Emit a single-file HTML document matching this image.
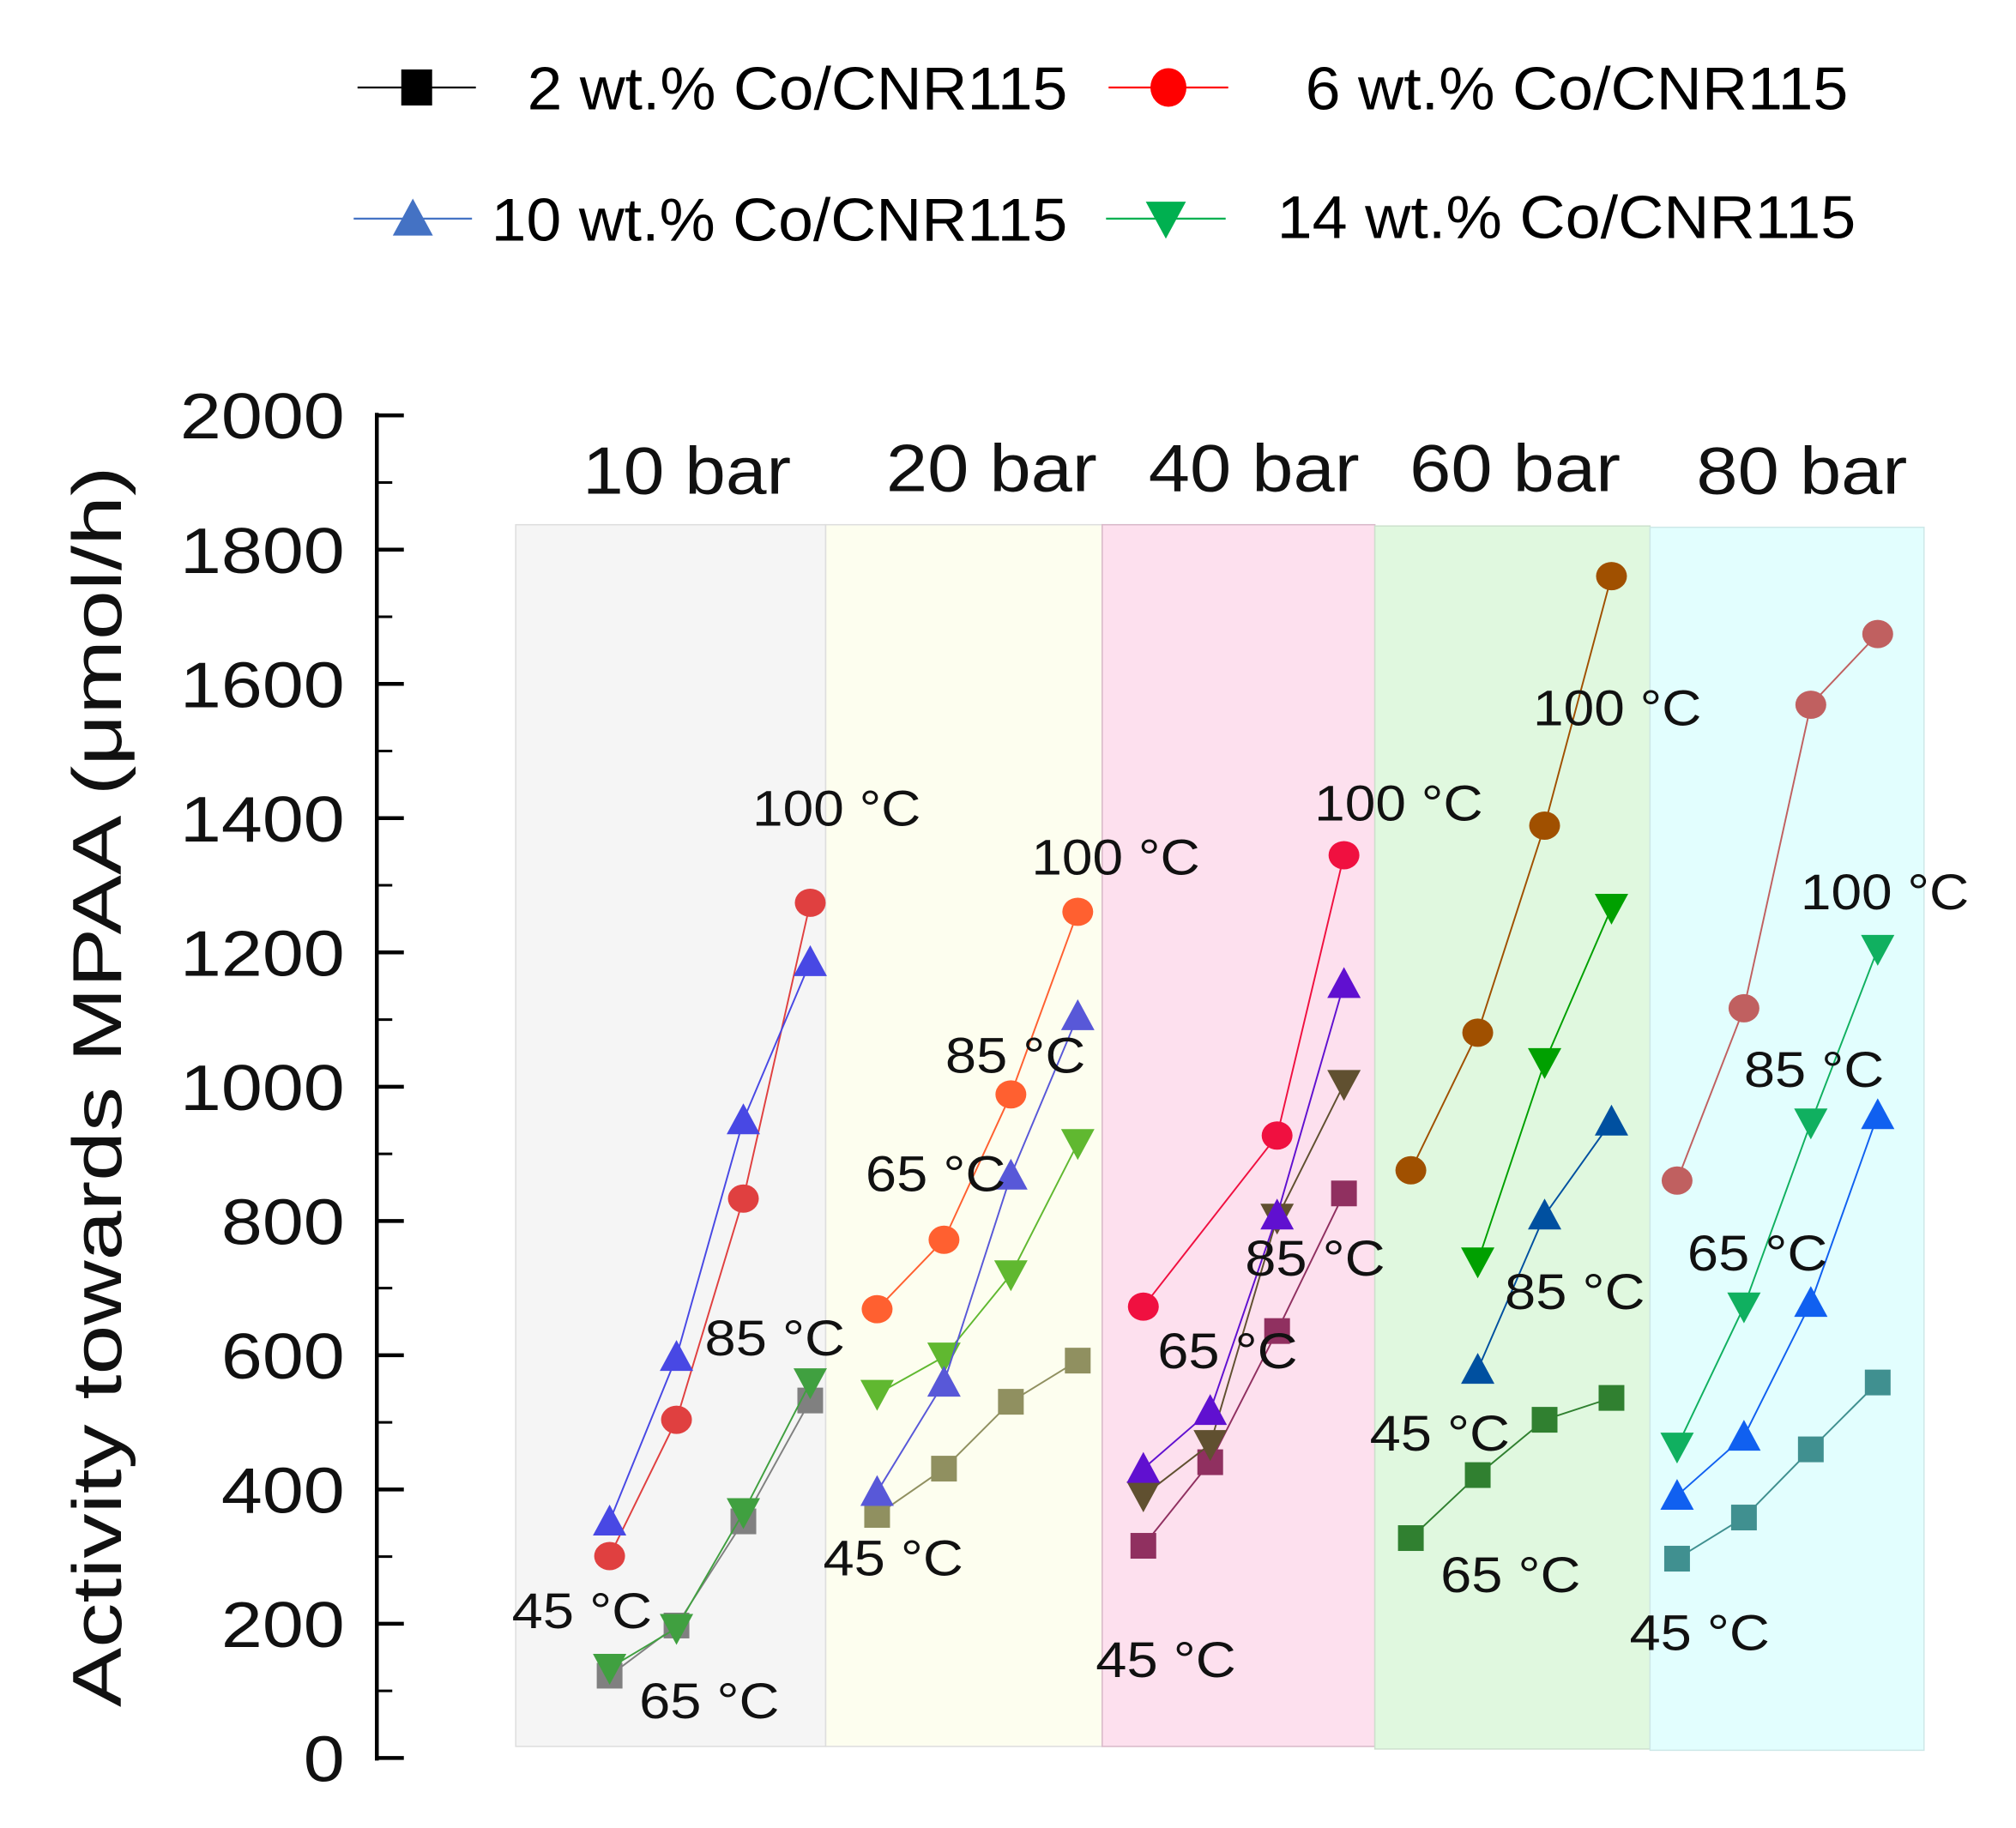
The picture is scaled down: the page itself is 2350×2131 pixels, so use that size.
<!DOCTYPE html>
<html><head><meta charset="utf-8"><style>html,body{margin:0;padding:0;background:#fff}svg{display:block}</style></head>
<body>
<svg id="s" width="2350" height="2131" viewBox="0 0 1560 1414.6" xmlns="http://www.w3.org/2000/svg" font-family="Liberation Sans, Arial, sans-serif">
<rect width="1560" height="1415" fill="#fff"/>
<g transform="scale(0.9952)">
<rect x="401" y="408" width="241" height="950" fill="#f5f5f5" stroke="#ddd" stroke-width="1"/>
<rect x="642" y="408" width="215" height="950" fill="#fdfeef" stroke="#ddd" stroke-width="1"/>
<rect x="857" y="408" width="212" height="950" fill="#fde0ee" stroke="#d8b8c8" stroke-width="1"/>
<rect x="1069" y="409" width="214" height="951" fill="#e0f8df" stroke="#cde0cd" stroke-width="1"/>
<rect x="1283" y="410" width="213" height="951" fill="#e2fefe" stroke="#cde8e8" stroke-width="1"/>
<g font-size="52" fill="#111">
<text x="453" y="384" textLength="162" lengthAdjust="spacingAndGlyphs">10 bar</text>
<text x="689" y="382" textLength="164" lengthAdjust="spacingAndGlyphs">20 bar</text>
<text x="893" y="382" textLength="164" lengthAdjust="spacingAndGlyphs">40 bar</text>
<text x="1096" y="382" textLength="164" lengthAdjust="spacingAndGlyphs">60 bar</text>
<text x="1319" y="384" textLength="164" lengthAdjust="spacingAndGlyphs">80 bar</text>
</g>
<g id="ax" stroke="#000" stroke-width="3" fill="none"></g>
<g font-size="50" fill="#111" id="yl"></g>
<text transform="translate(94,845) rotate(-90)" font-size="54" text-anchor="middle" fill="#111" textLength="965" lengthAdjust="spacingAndGlyphs">Activity towards MPAA (μmol/h)</text>
<g id="data"></g>
<g font-size="39" fill="#111" id="tl"></g>
<g id="leg"></g>
<g font-size="47" fill="#000" font-family="Liberation Sans Narrow, Liberation Sans, sans-serif">
<text x="410" y="85" textLength="420" lengthAdjust="spacingAndGlyphs">2 wt.% Co/CNR115</text>
<text x="1015" y="85" textLength="422" lengthAdjust="spacingAndGlyphs">6 wt.% Co/CNR115</text>
<text x="382" y="187" textLength="448" lengthAdjust="spacingAndGlyphs">10 wt.% Co/CNR115</text>
<text x="993" y="185" textLength="450" lengthAdjust="spacingAndGlyphs">14 wt.% Co/CNR115</text>
</g>
</g>
</svg>
<script>
var NS="http://www.w3.org/2000/svg";
function el(p,t,a){var e=document.createElementNS(NS,t);for(var k in a)e.setAttribute(k,a[k]);p.appendChild(e);return e;}
var ax=document.getElementById('ax'),yl=document.getElementById('yl');
el(ax,'line',{x1:293,y1:321,x2:293,y2:1369});
for(var v=0;v<=2000;v+=100){var y=1367-v*0.522;var maj=v%200==0;
el(ax,'line',{x1:293,y1:y,x2:maj?314:305,y2:y,'stroke-width':maj?3:2});
if(maj){var s=String(v),w=s.length==4?128:s.length==3?96:32;
var t=el(yl,'text',{x:268-w,y:y+18,textLength:w,lengthAdjust:'spacingAndGlyphs'});t.textContent=s;}}
var TL=[[585,642,'100 °C'],[548,1054,'85 °C'],[398,1266,'45 °C'],[497,1336,'65 °C'],
[802,680,'100 °C'],[735,834,'85 °C'],[673,926,'65 °C'],[640,1225,'45 °C'],
[1022,638,'100 °C'],[968,992,'85 °C'],[900,1064,'65 °C'],[852,1304,'45 °C'],
[1192,564,'100 °C'],[1170,1018,'85 °C'],[1065,1128,'45 °C'],[1120,1238,'65 °C'],
[1400,707,'100 °C'],[1356,845,'85 °C'],[1312,988,'65 °C'],[1267,1283,'45 °C']];
var tl=document.getElementById('tl');
TL.forEach(function(a){var t=el(tl,'text',{x:a[0],y:a[1],textLength:a[2].length==6?131:109,lengthAdjust:'spacingAndGlyphs'});t.textContent=a[2];});
var D=document.getElementById('data');
function mk(g,type,x,y,c,s){s=s||1;
 if(type=='c')el(g,'ellipse',{cx:x,cy:y,rx:12*s,ry:11*s,fill:c});
 else if(type=='s')el(g,'rect',{x:x-10*s,y:y-10*s,width:20*s,height:20*s,fill:c});
 else if(type=='u')el(g,'polygon',{points:(x-13*s)+','+(y+11*s)+' '+(x+13*s)+','+(y+11*s)+' '+x+','+(y-13*s),fill:c});
 else el(g,'polygon',{points:(x-13*s)+','+(y-11*s)+' '+(x+13*s)+','+(y-11*s)+' '+x+','+(y+13*s),fill:c});}
var S=[
['s','#808080',[[474,1303],[526,1264],[578,1183],[630,1089]]],
['d','#40a040',[[474,1297],[526,1266],[578,1176],[630,1075]]],
['c','#e04040',[[474,1210],[526,1104],[578,932],[630,702]]],
['u','#4848e4',[[474,1183],[526,1055],[578,871],[630,748]]],
['s','#909060',[[682,1178],[734,1142],[786,1090],[838,1058]]],
['d','#60b830',[[682,1084],[734,1055],[786,991],[838,889]]],
['u','#5858d8',[[682,1160],[734,1075],[786,914],[838,790]]],
['c','#ff6030',[[682,1018],[734,964],[786,851],[838,709]]],
['s','#903060',[[889,1202],[941,1137],[993,1035],[1045,928]]],
['d','#605030',[[889,1163],[941,1123],[993,947],[1045,843]]],
['u','#6010d0',[[889,1142],[941,1097],[993,945],[1045,765]]],
['c','#f01040',[[889,1016],[993,883],[1045,665]]],
['s','#308030',[[1097,1196],[1149,1147],[1201,1104],[1253,1087]]],
['u','#0050a0',[[1149,1065],[1201,945],[1253,872]]],
['d','#00a000',[[1149,981],[1201,826],[1253,706]]],
['c','#a05000',[[1097,910],[1149,803],[1201,642],[1253,448]]],
['s','#409090',[[1304,1212],[1356,1180],[1408,1127],[1460,1075]]],
['u','#1060f0',[[1304,1163],[1356,1117],[1408,1013],[1460,867]]],
['d','#10b060',[[1304,1125],[1356,1016],[1408,873],[1460,738]]],
['c','#c06060',[[1304,918],[1356,784],[1408,548],[1460,493]]]];
S.forEach(function(s){var g=el(D,'g',{});
 el(g,'polyline',{points:s[2].map(function(p){return p.join(',')}).join(' '),fill:'none',stroke:s[1],'stroke-width':1.3});
 s[2].forEach(function(p){mk(g,s[0],p[0],p[1],s[1]);});});
var L=document.getElementById('leg');
[[278,370,68,'s','#000'],[862,955,68,'c','#ff0000'],[275,367,170,'u','#4472c4'],[860,953,170,'d','#00b050']].forEach(function(l){
 el(L,'line',{x1:l[0],y1:l[2],x2:l[1],y2:l[2],stroke:l[4],'stroke-width':1.5});
 var cx=(l[0]+l[1])/2;
 if(l[3]=='c')el(L,'ellipse',{cx:cx,cy:l[2],rx:14,ry:15,fill:l[4]});
 else if(l[3]=='s')el(L,'rect',{x:cx-12,y:l[2]-14,width:24,height:28,fill:l[4]});
 else mk(L,l[3],cx,l[2],l[4],1.2);});
</script>
</body></html>
